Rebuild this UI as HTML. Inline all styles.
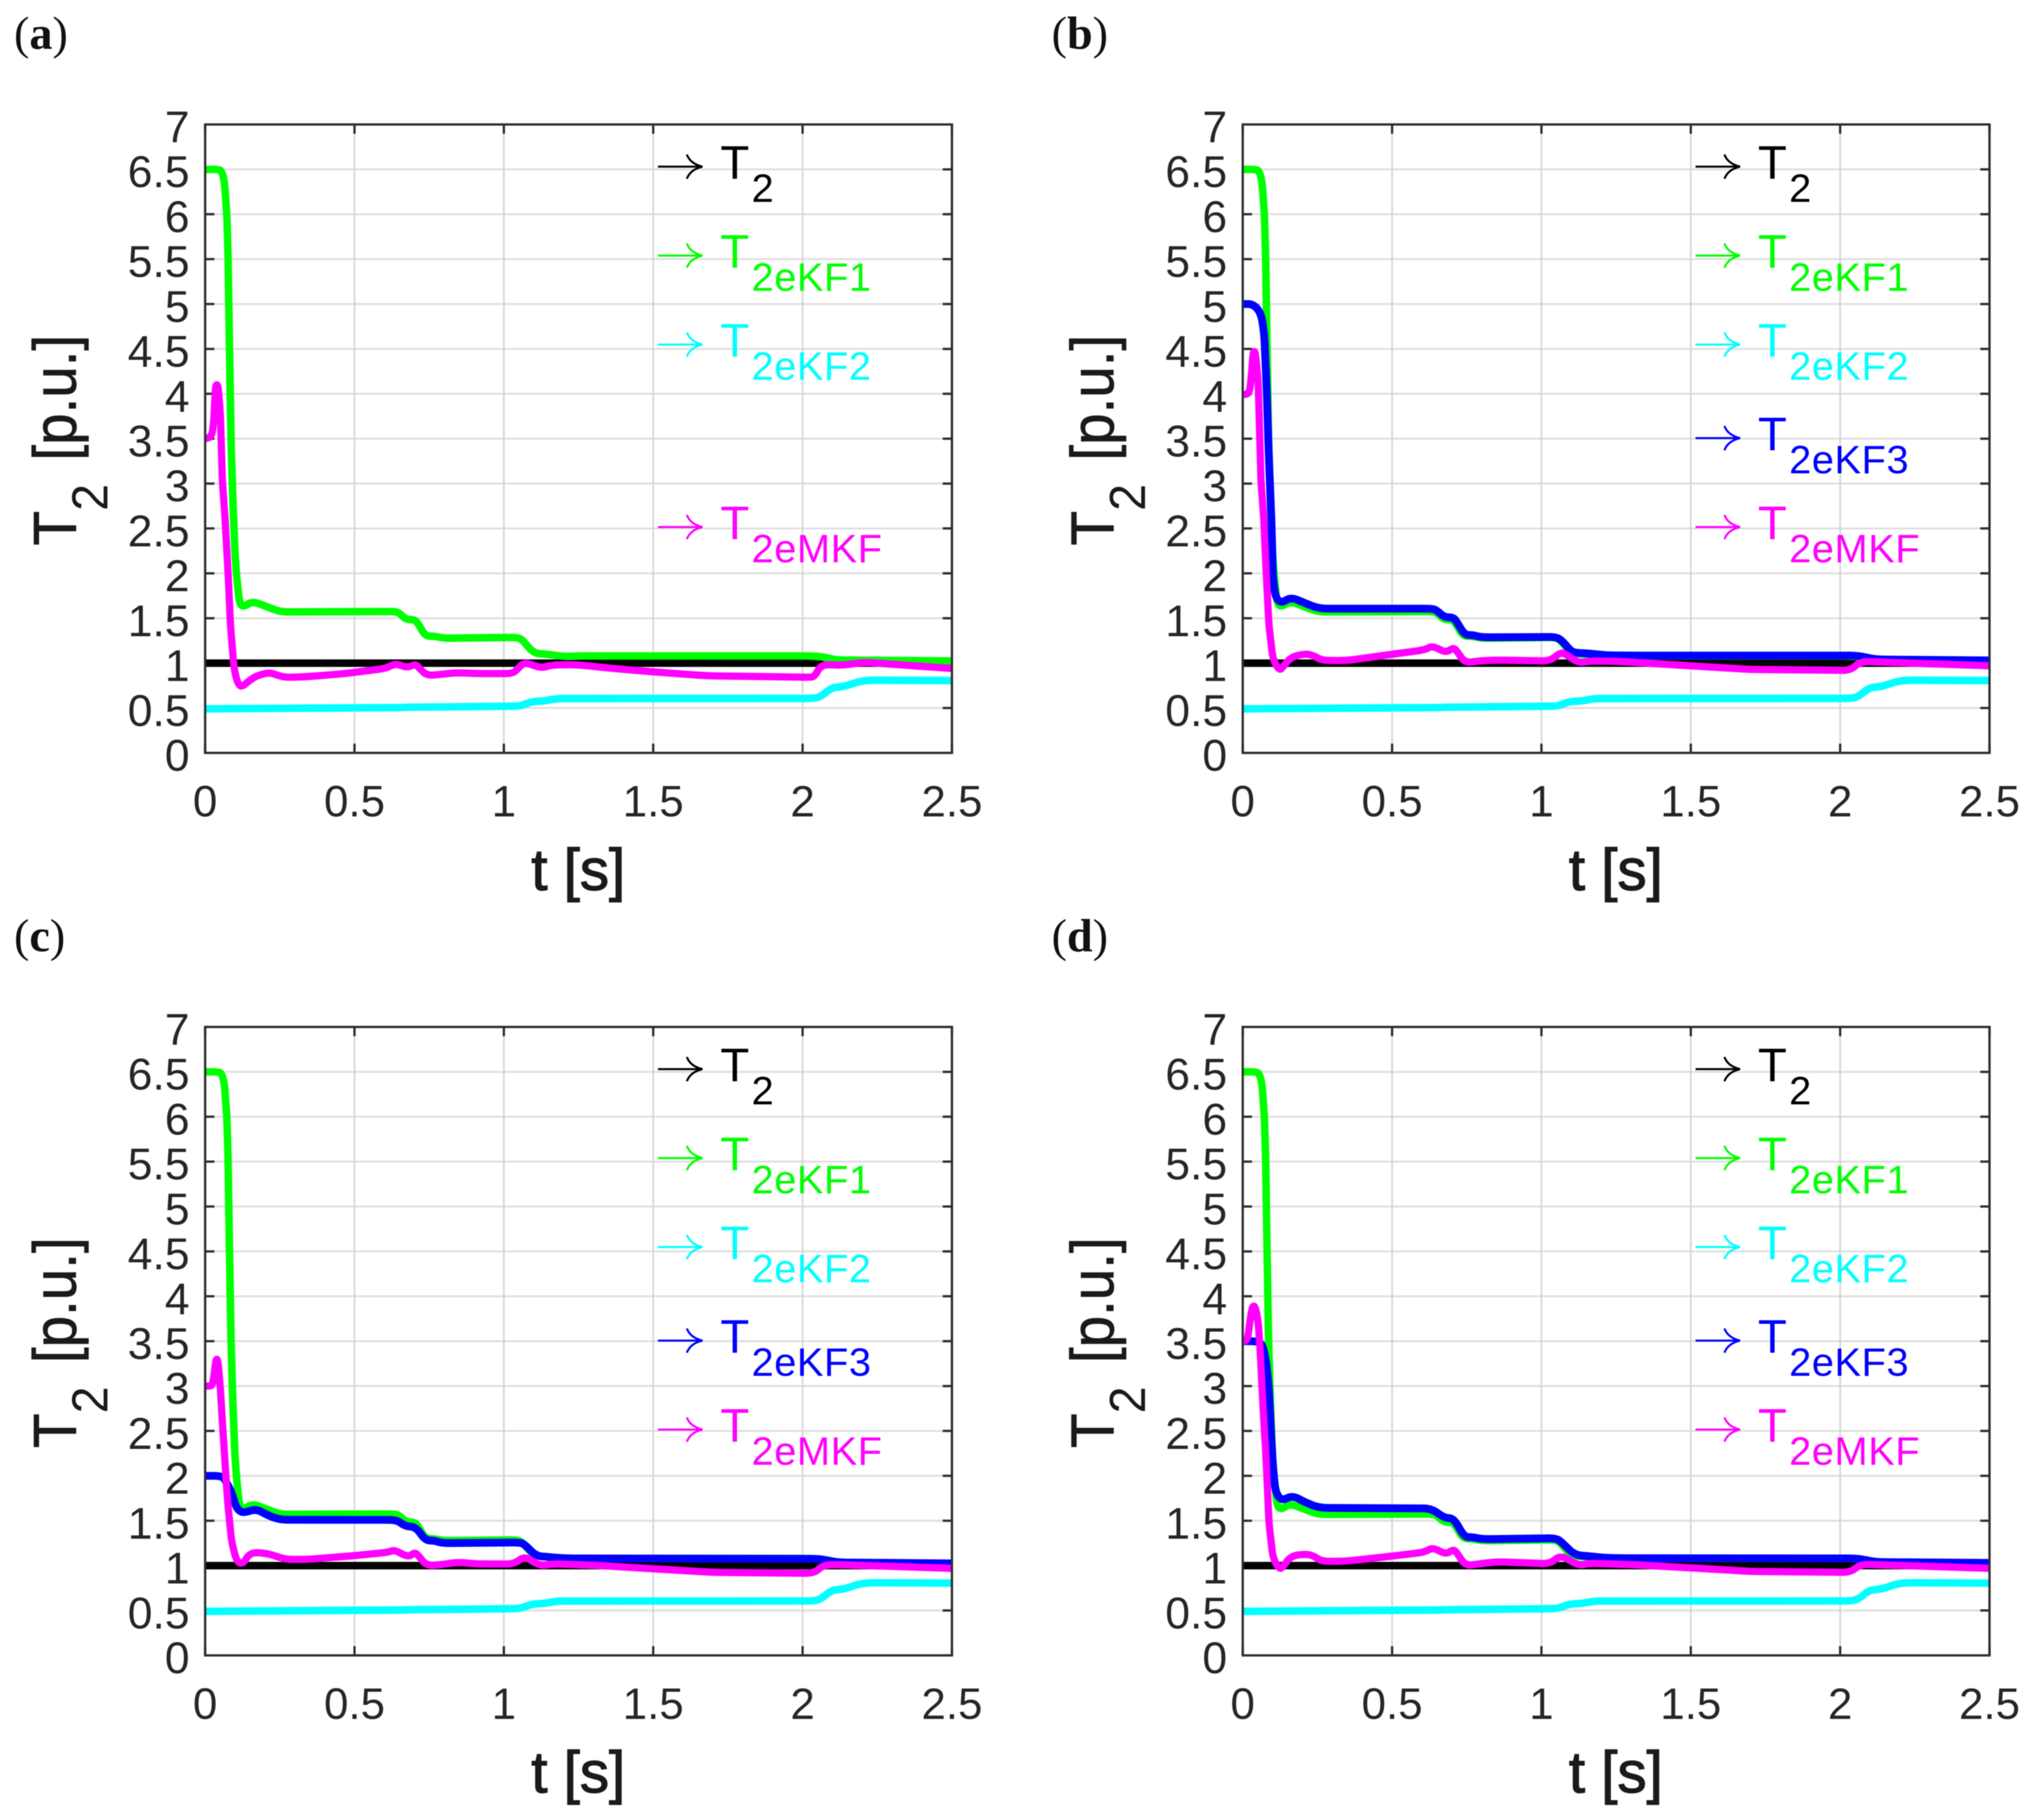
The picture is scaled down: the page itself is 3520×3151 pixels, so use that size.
<!DOCTYPE html>
<html lang="en">
<head>
<meta charset="utf-8">
<title>T2 estimation comparison</title>
<style>
html,body{margin:0;padding:0;background:#fff;}
svg{display:block;filter:blur(0.7px);}
text{font-family:"Liberation Sans",sans-serif;}
.panel-letter{font-family:"Liberation Serif",serif;}
</style>
</head>
<body>
<svg id="figure" xmlns="http://www.w3.org/2000/svg" width="3520" height="3151" viewBox="0 0 3520 3151">
<rect width="3520" height="3151" fill="#ffffff"/>
</svg>
<script>
const xTicks = [0, 0.5, 1, 1.5, 2, 2.5];
const yTicks = [0, 0.5, 1, 1.5, 2, 2.5, 3, 3.5, 4, 4.5, 5, 5.5, 6, 6.5, 7];

const tBlack = [0, 2.5];
const vBlack = [1, 1];

const tGreen = [0, 0.045, 0.055, 0.064, 0.0725, 0.077, 0.0815, 0.0866, 0.0935, 0.1008, 0.106, 0.115, 0.128, 0.158, 0.201, 0.244, 0.27, 0.633, 0.65, 0.672, 0.702, 0.715, 0.737, 0.767, 0.8, 1.047, 1.065, 1.091, 1.112, 1.143, 1.203, 1.25, 2.024, 2.067, 2.11, 2.5];
const vGreen = [6.5, 6.5, 6.48, 6.38, 6.01, 5.5, 4.5, 3.5, 2.75, 2.17, 1.95, 1.667, 1.624, 1.69, 1.635, 1.58, 1.57, 1.575, 1.56, 1.485, 1.485, 1.43, 1.3, 1.3, 1.277, 1.287, 1.25, 1.14, 1.105, 1.1, 1.073, 1.08, 1.08, 1.073, 1.034, 1.025];

const tCyan = [0, 0.65, 0.685, 1.047, 1.065, 1.095, 1.134, 1.177, 1.21, 2.033, 2.06, 2.098, 2.136, 2.188, 2.223, 2.5];
const vCyan = [0.49, 0.505, 0.509, 0.52, 0.535, 0.573, 0.577, 0.605, 0.605, 0.606, 0.623, 0.73, 0.735, 0.795, 0.81, 0.805];

const tMagentaA = [0, 0.022, 0.0286, 0.035, 0.043, 0.051, 0.0577, 0.067, 0.076, 0.085, 0.0976, 0.11, 0.1235, 0.149, 0.175, 0.214, 0.236, 0.266, 0.339, 0.469, 0.607, 0.637, 0.676, 0.704, 0.719, 0.741, 0.788, 0.84, 0.9, 1.03, 1.047, 1.069, 1.125, 1.16, 1.247, 1.35, 1.5, 1.68, 2.024, 2.04, 2.063, 2.132, 2.206, 2.5];
const vMagentaA = [3.5, 3.52, 3.68, 4.1, 4.1, 3.78, 3.03, 2.59, 2.05, 1.41, 0.916, 0.766, 0.734, 0.81, 0.863, 0.895, 0.873, 0.841, 0.848, 0.884, 0.942, 0.998, 0.948, 0.99, 0.938, 0.863, 0.873, 0.895, 0.884, 0.884, 0.938, 1.013, 0.942, 0.98, 0.983, 0.945, 0.903, 0.859, 0.842, 0.85, 0.986, 0.975, 1.01, 0.94];

const tBlueB = [0, 0.035, 0.061, 0.072, 0.0806, 0.087, 0.0967, 0.101, 0.11, 0.129, 0.161, 0.209, 0.256, 0.632, 0.649, 0.675, 0.705, 0.718, 0.743, 0.77, 0.8, 1.051, 1.0725, 1.098, 1.116, 1.155, 1.21, 1.312, 2.06, 2.117, 2.5];
const vBlueB = [5, 5, 4.9, 4.67, 4.01, 3.35, 2.53, 1.94, 1.73, 1.667, 1.736, 1.667, 1.607, 1.607, 1.59, 1.51, 1.51, 1.453, 1.313, 1.313, 1.288, 1.292, 1.238, 1.135, 1.114, 1.11, 1.088, 1.084, 1.084, 1.041, 1.03];

const tMagentaB = [0, 0.0226, 0.03, 0.035, 0.042, 0.0516, 0.061, 0.0708, 0.0794, 0.088, 0.101, 0.1226, 0.1356, 0.161, 0.209, 0.235, 0.265, 0.347, 0.477, 0.61, 0.636, 0.68, 0.705, 0.718, 0.744, 0.788, 0.848, 1.029, 1.064, 1.081, 1.124, 1.159, 1.254, 1.5, 1.7, 2.035, 2.068, 2.125, 2.5];
const vMagentaB = [3.99, 4, 4.24, 4.47, 4.47, 4.14, 3.03, 2.59, 1.95, 1.41, 1.045, 0.916, 0.96, 1.067, 1.105, 1.088, 1.03, 1.028, 1.088, 1.148, 1.195, 1.114, 1.174, 1.13, 1.002, 1.024, 1.034, 1.024, 1.12, 1.1, 1.002, 1.024, 1.02, 0.97, 0.93, 0.919, 1.02, 1.013, 0.97];

const tBlueC = [0, 0.054, 0.067, 0.089, 0.102, 0.115, 0.132, 0.171, 0.21, 0.253, 0.642, 0.668, 0.706, 0.737, 0.767, 0.793, 1.056, 1.073, 1.108, 1.147, 1.203, 1.31, 2.06, 2.117, 2.5];
const vBlueC = [2, 2, 1.955, 1.815, 1.665, 1.605, 1.59, 1.633, 1.558, 1.51, 1.509, 1.44, 1.43, 1.28, 1.28, 1.25, 1.258, 1.225, 1.107, 1.097, 1.08, 1.08, 1.075, 1.035, 1.025];

const tMagentaC = [0, 0.016, 0.025, 0.032, 0.037, 0.043, 0.0512, 0.0587, 0.067, 0.076, 0.089, 0.106, 0.126, 0.145, 0.167, 0.218, 0.266, 0.339, 0.486, 0.616, 0.633, 0.68, 0.702, 0.715, 0.741, 0.788, 0.849, 0.9, 1.035, 1.069, 1.121, 1.16, 1.305, 1.5, 1.7, 2.04, 2.07, 2.13, 2.5];
const vMagentaC = [3, 3, 3.01, 3.18, 3.31, 3.28, 2.96, 2.545, 2.116, 1.687, 1.257, 1.043, 1.017, 1.118, 1.15, 1.129, 1.069, 1.069, 1.107, 1.15, 1.178, 1.092, 1.15, 1.107, 1, 1.01, 1.039, 1.02, 1.017, 1.107, 0.996, 1.02, 1.004, 0.965, 0.925, 0.915, 1.01, 1.01, 0.97];

const tBlueD = [0, 0.042, 0.0645, 0.077, 0.087, 0.0967, 0.101, 0.11, 0.131, 0.166, 0.209, 0.256, 0.632, 0.675, 0.705, 0.743, 0.77, 0.8, 1.051, 1.072, 1.111, 1.155, 1.21, 1.31, 2.06, 2.117, 2.5];
const vBlueD = [3.5, 3.5, 3.48, 3.31, 3, 2.35, 2.116, 1.815, 1.72, 1.783, 1.704, 1.644, 1.637, 1.53, 1.53, 1.316, 1.318, 1.295, 1.305, 1.247, 1.118, 1.107, 1.086, 1.082, 1.08, 1.04, 1.03];

const tMagentaD = [0, 0.016, 0.024, 0.032, 0.042, 0.0516, 0.058, 0.0677, 0.0774, 0.088, 0.101, 0.1226, 0.1356, 0.161, 0.209, 0.235, 0.265, 0.347, 0.477, 0.61, 0.636, 0.68, 0.705, 0.718, 0.744, 0.788, 0.848, 1.029, 1.064, 1.124, 1.159, 1.313, 1.5, 1.7, 2.035, 2.068, 2.125, 2.5];
const vMagentaD = [3.5, 3.51, 3.72, 3.89, 3.89, 3.72, 3.42, 2.78, 2.24, 1.47, 1.086, 0.957, 0.99, 1.107, 1.129, 1.112, 1.047, 1.05, 1.097, 1.15, 1.204, 1.124, 1.182, 1.14, 1, 1.017, 1.043, 1.02, 1.118, 1, 1.026, 1.01, 0.975, 0.935, 0.925, 1.015, 1.01, 0.97];

const xMax = 2.5;
const yMax = 7;
const plotW = 1293;
const plotH = 1088;

const colBlack = '#000000';
const colGreen = '#00ff00';
const colCyan = '#00ffff';
const colBlue = '#0000ff';
const colMagenta = '#ff00ff';

const panels = [
  {id:'a', label:'a', left:355.2, bottom:1303.5, blueT:null, blueV:null, magT:tMagentaA, magV:vMagentaA},
  {id:'b', label:'b', left:2151.7, bottom:1303.5, blueT:tBlueB, blueV:vBlueB, magT:tMagentaB, magV:vMagentaB},
  {id:'c', label:'c', left:355.2, bottom:2866, blueT:tBlueC, blueV:vBlueC, magT:tMagentaC, magV:vMagentaC},
  {id:'d', label:'d', left:2151.7, bottom:2866, blueT:tBlueD, blueV:vBlueD, magT:tMagentaD, magV:vMagentaD}
];

const NS = 'http://www.w3.org/2000/svg';
const root = document.getElementById('figure');

function mk(parent, tag, attrs, txt) {
  const el = document.createElementNS(NS, tag);
  for (const k in attrs) el.setAttribute(k, attrs[k]);
  if (txt !== undefined) el.textContent = txt;
  parent.appendChild(el);
  return el;
}

function roundedPath(pts, r) {
  let d = 'M' + pts[0][0].toFixed(1) + ' ' + pts[0][1].toFixed(1);
  for (let i = 1; i < pts.length - 1; i++) {
    const a = pts[i - 1], b = pts[i], c = pts[i + 1];
    const l1 = Math.hypot(b[0] - a[0], b[1] - a[1]) || 1;
    const l2 = Math.hypot(c[0] - b[0], c[1] - b[1]) || 1;
    const r1 = Math.min(r, l1 / 2), r2 = Math.min(r, l2 / 2);
    const sx = b[0] + (a[0] - b[0]) * r1 / l1, sy = b[1] + (a[1] - b[1]) * r1 / l1;
    const ex = b[0] + (c[0] - b[0]) * r2 / l2, ey = b[1] + (c[1] - b[1]) * r2 / l2;
    d += 'L' + sx.toFixed(1) + ' ' + sy.toFixed(1) + 'Q' + b[0].toFixed(1) + ' ' + b[1].toFixed(1) + ' ' + ex.toFixed(1) + ' ' + ey.toFixed(1);
  }
  const z = pts[pts.length - 1];
  return d + 'L' + z[0].toFixed(1) + ' ' + z[1].toFixed(1);
}

panels.forEach(function (p) {
  const xS = function (t) { return p.left + (t / xMax) * plotW; };
  const yS = function (v) { return p.bottom - (v / yMax) * plotH; };
  const top = yS(yMax);
  const right = xS(xMax);

  const g = mk(root, 'g', {});
  
  

  const letter = mk(g, 'text', {x: p.left - 331, y: p.bottom - 1219, 'font-size': 80, fill: '#111', class: 'panel-letter'});
  
  
  mk(letter, 'tspan', {}, '(');
  mk(letter, 'tspan', {'font-weight': 'bold'}, p.label);
  mk(letter, 'tspan', {}, ')');

  const clipId = 'clip-' + p.id;
  const defs = mk(g, 'defs', {});
  const clip = mk(defs, 'clipPath', {id: clipId});
  mk(clip, 'rect', {x: p.left, y: top, width: plotW, height: plotH});

  const grid = mk(g, 'g', {});
  
  
  yTicks.forEach(function (v) {
    if (v === 0 || v === yMax) return;
    const ln = mk(grid, 'line', {x1: p.left, x2: right, y1: yS(v), y2: yS(v), stroke: '#dedede', 'stroke-width': 3.2});
    
    
  });
  xTicks.forEach(function (t) {
    if (t === 0 || t === xMax) return;
    const ln = mk(grid, 'line', {x1: xS(t), x2: xS(t), y1: top, y2: p.bottom, stroke: '#d2d2d2', 'stroke-width': 2.6});
    
    
  });

  const axes = mk(g, 'g', {});
  
  
  yTicks.forEach(function (v) {
    const l1 = mk(axes, 'line', {x1: p.left, x2: p.left + 16, y1: yS(v), y2: yS(v), stroke: '#2e2e2e', 'stroke-width': 4});
    
    
    const l2 = mk(axes, 'line', {x1: right - 16, x2: right, y1: yS(v), y2: yS(v), stroke: '#2e2e2e', 'stroke-width': 4});
    
    
    const lab = mk(axes, 'text', {x: p.left - 27, y: yS(v) + 31, 'font-size': 77, 'text-anchor': 'end', fill: '#262626'}, String(v));
    
    
  });
  xTicks.forEach(function (t) {
    const l1 = mk(axes, 'line', {x1: xS(t), x2: xS(t), y1: p.bottom - 16, y2: p.bottom, stroke: '#2e2e2e', 'stroke-width': 4});
    
    
    const l2 = mk(axes, 'line', {x1: xS(t), x2: xS(t), y1: top, y2: top + 16, stroke: '#2e2e2e', 'stroke-width': 4});
    
    
    const lab = mk(axes, 'text', {x: xS(t), y: p.bottom + 110, 'font-size': 76, 'text-anchor': 'middle', fill: '#262626'}, String(t));
    
    
  });

  const series = mk(g, 'g', {'clip-path': 'url(#' + clipId + ')', fill: 'none', 'stroke-linejoin': 'round', 'stroke-linecap': 'butt'});
  
  

  function drawLine(name, ts, vs, color, width) {
    const pts = ts.map(function (t, i) { return [xS(t), yS(vs[i])]; });
    const pl = mk(series, 'path', {d: roundedPath(pts, 14), stroke: color, 'stroke-width': width});
    
    
  }
  drawLine('line-t2', tBlack, vBlack, colBlack, 13);
  drawLine('line-t2ekf1', tGreen, vGreen, colGreen, 13);
  drawLine('line-t2ekf2', tCyan, vCyan, colCyan, 13);
  if (p.blueT) drawLine('line-t2ekf3', p.blueT, p.blueV, colBlue, 13.5);
  drawLine('line-t2emkf', p.magT, p.magV, colMagenta, 12.5);

  const frame = mk(g, 'rect', {x: p.left, y: top, width: plotW, height: plotH, fill: 'none', stroke: '#2e2e2e', 'stroke-width': 4});
  
  

  const legend = mk(g, 'g', {});
  
  
  const rows = [
    {sub: '2', color: colBlack, dy: 1015},
    {sub: '2eKF1', color: colGreen, dy: 861},
    {sub: '2eKF2', color: colCyan, dy: 707}
  ];
  if (p.blueT) rows.push({sub: '2eKF3', color: colBlue, dy: 545});
  rows.push({sub: '2eMKF', color: colMagenta, dy: 391});
  rows.forEach(function (r) {
    const ay = p.bottom - r.dy;
    const ax = p.left + 784;
    const entry = mk(legend, 'g', {});
    
    
    const arrow = mk(entry, 'path', {
      d: 'M' + ax + ' ' + ay + 'H' + (ax + 76) + 'M' + (ax + 50) + ' ' + (ay - 21) + 'Q' + (ax + 56) + ' ' + (ay - 5) + ' ' + (ax + 77) + ' ' + ay + 'Q' + (ax + 56) + ' ' + (ay + 5) + ' ' + (ax + 50) + ' ' + (ay + 21),
      fill: 'none', stroke: r.color, 'stroke-width': 3.6
    });
    
    
    const tt = mk(entry, 'text', {x: ax + 108, y: ay + 21, 'font-size': 82, fill: r.color}, 'T');
    
    
    const st = mk(entry, 'text', {x: ax + 162, y: ay + 61, 'font-size': 69, 'letter-spacing': 0.9, fill: r.color}, r.sub);
    
    
  });

  const xTitle = mk(g, 'text', {x: p.left + 646, y: p.bottom + 237, 'font-size': 101, 'text-anchor': 'middle', fill: '#1a1a1a', stroke: '#1a1a1a', 'stroke-width': 2}, 't [s]');
  
  

  const yTitle = mk(g, 'g', {});
  
  
  const bx = p.left - 224;
  const by = p.bottom - 359;
  const t1 = mk(yTitle, 'text', {transform: 'translate(' + bx + ',' + by + ') rotate(-90) scale(1,1.07)', 'font-size': 98, fill: '#1a1a1a', stroke: '#1a1a1a', 'stroke-width': 1.2}, 'T');
  
  
  const t2 = mk(yTitle, 'text', {transform: 'translate(' + (bx + 55) + ',' + (by - 60) + ') rotate(-90) scale(1,1.05)', 'font-size': 84, fill: '#1a1a1a'}, '2');
  
  
  const t3 = mk(yTitle, 'text', {transform: 'translate(' + bx + ',' + (by - 147) + ') rotate(-90) scale(1,1.07)', 'font-size': 98, fill: '#1a1a1a', stroke: '#1a1a1a', 'stroke-width': 1.2}, '[p.u.]');
  
  
});
</script>
</body>
</html>
